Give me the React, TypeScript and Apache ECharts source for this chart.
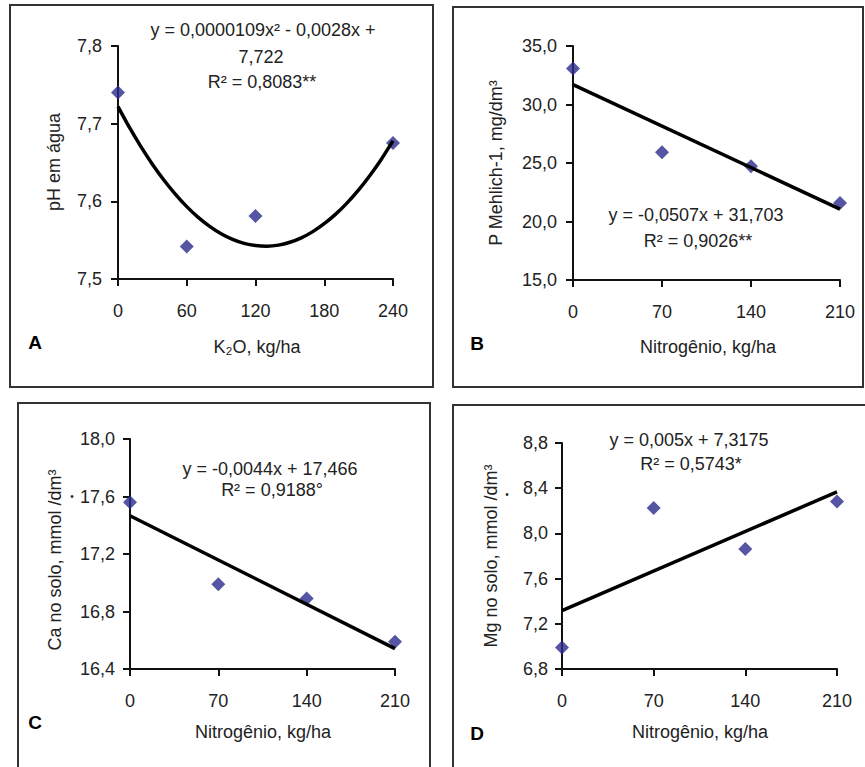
import React, { useEffect, useRef } from "react";
import * as echarts from "echarts";

// Panel A: pH vs K2O dose
const kDoses = [0, 60, 120, 240];
const phValues = [7.74, 7.542, 7.581, 7.675];
const phCurveX = [0, 10, 20, 30, 40, 50, 60, 70, 80, 90, 100, 110, 120, 130, 140, 150, 160, 170, 180, 190, 200, 210, 220, 230, 240];
const phCurveY = [
  7.722, 7.6951, 7.6704, 7.6478, 7.6274, 7.6093, 7.5932, 7.5794, 7.5678, 7.5583, 7.551, 7.5459, 7.543,
  7.5422, 7.5436, 7.5473, 7.553, 7.561, 7.5712, 7.5835, 7.598, 7.6147, 7.6336, 7.6546, 7.6778,
];

// Panels B, C, D: nitrogen doses
const nDoses = [0, 70, 140, 210];
const nTrendX = [0, 210];
const pValues = [33.07, 25.92, 24.73, 21.59];
const pTrend = [31.703, 21.056];
const caValues = [17.56, 16.99, 16.89, 16.59];
const caTrend = [17.466, 16.542];
const mgValues = [6.99, 8.225, 7.862, 8.283];
const mgTrend = [7.3175, 8.3675];

const FONT = "'Liberation Sans', Arial, sans-serif";
const TXT = "#222";
const MARK = "#2a2a8c";
const FS = 18;

const pairs = (xs: number[], ys: number[]) => xs.map((x, i) => [x, ys[i]]);
const comma = (v: number) => v.toFixed(1).replace(".", ",");

function xAxis(gridIndex: number, max: number, interval: number) {
  return {
    type: "value" as const,
    gridIndex,
    min: 0,
    max,
    interval,
    splitLine: { show: false },
    axisLine: { show: true, onZero: false, lineStyle: { color: "#111", width: 2 } },
    axisTick: { show: true, inside: false, length: 7, lineStyle: { color: "#111", width: 2 } },
    axisLabel: { color: TXT, fontSize: FS, fontFamily: FONT, margin: 23, formatter: (v: number) => String(v) },
  };
}

function yAxis(gridIndex: number, min: number, max: number, interval: number, margin: number) {
  return {
    type: "value" as const,
    gridIndex,
    min,
    max,
    interval,
    splitLine: { show: false },
    axisLine: { show: true, onZero: false, lineStyle: { color: "#111", width: 2 } },
    axisTick: { show: true, inside: false, length: 7, lineStyle: { color: "#111", width: 2 } },
    axisLabel: { color: TXT, fontSize: FS, fontFamily: FONT, margin, formatter: comma },
  };
}

function scatter(i: number, xs: number[], ys: number[]) {
  return {
    type: "scatter" as const,
    xAxisIndex: i,
    yAxisIndex: i,
    symbol: "diamond",
    symbolSize: 14,
    itemStyle: { color: MARK },
    data: pairs(xs, ys),
    z: 3,
  };
}

function trend(i: number, xs: number[], ys: number[], smooth: boolean | number = false) {
  return {
    type: "line" as const,
    xAxisIndex: i,
    yAxisIndex: i,
    symbol: "none",
    smooth,
    lineStyle: { color: "#000", width: 3.5 },
    data: pairs(xs, ys),
    z: 4,
  };
}

function label(text: string, x: number, y: number, size = FS, extra: any = {}) {
  return {
    type: "text" as const,
    x,
    y,
    ...extra,
    style: {
      text,
      fontSize: size,
      fontFamily: FONT,
      fill: TXT,
      align: "center",
      verticalAlign: "middle",
      ...(extra.style || {}),
    },
  };
}

function frame(x: number, y: number, w: number, h: number) {
  return {
    type: "rect" as const,
    shape: { x, y, width: w, height: h },
    style: { fill: "none", stroke: "#333", lineWidth: 2 },
  };
}

const vertical = { rotation: Math.PI / 2 };
const letter = { style: { fontWeight: "bold", fill: "#000" } };

export default function App() {
  const ref = useRef<HTMLDivElement>(null);

  useEffect(() => {
    if (!ref.current) return;
    const chart = echarts.init(ref.current, null, { renderer: "svg" });
    chart.setOption({
      animation: false,
      backgroundColor: "#fff",
      grid: [
        { left: 118, top: 46, width: 275, height: 233 },
        { left: 573, top: 46, width: 267, height: 234 },
        { left: 130, top: 439, width: 265, height: 230 },
        { left: 562, top: 443, width: 275, height: 226 },
      ],
      xAxis: [xAxis(0, 240, 60), xAxis(1, 210, 70), xAxis(2, 210, 70), xAxis(3, 210, 70)],
      yAxis: [
        yAxis(0, 7.5, 7.8, 0.1, 16),
        yAxis(1, 15, 35, 5, 16),
        yAxis(2, 16.4, 18.0, 0.4, 15),
        yAxis(3, 6.8, 8.8, 0.4, 14),
      ],
      series: [
        scatter(0, kDoses, phValues),
        trend(0, phCurveX, phCurveY, 0.2),
        scatter(1, nDoses, pValues),
        trend(1, nTrendX, pTrend),
        scatter(2, nDoses, caValues),
        trend(2, nTrendX, caTrend),
        scatter(3, nDoses, mgValues),
        trend(3, nTrendX, mgTrend),
      ],
      graphic: [
        frame(10, 5, 423, 382),
        frame(453, 7, 410, 380),
        frame(18, 403, 412, 400),
        frame(453, 405, 420, 400),

        // Panel A
        label("y = 0,0000109x² - 0,0028x +", 263, 30),
        label("7,722", 261, 57),
        label("R² = 0,8083**", 262, 82),
        label("pH em água", 54, 162, FS, vertical),
        label("K₂O, kg/ha", 257, 347),
        label("A", 35, 342, 19, letter),

        // Panel B
        label("y = -0,0507x + 31,703", 696, 215),
        label("R² = 0,9026**", 698, 241),
        label("P Mehlich-1, mg/dm³", 496, 163, FS, vertical),
        label("Nitrogênio, kg/ha", 708, 347),
        label("B", 477, 343, 19, letter),

        // Panel C
        label("y = -0,0044x + 17,466", 270, 469),
        label("R² = 0,9188°", 272, 490),
        label("Ca no solo, mmol /dm³", 55, 560, FS, vertical),
        label("•", 72, 496, 10),
        label("Nitrogênio, kg/ha", 263, 732),
        label("C", 35, 722, 19, letter),

        // Panel D
        label("y = 0,005x + 7,3175", 689, 440),
        label("R² = 0,5743*", 691, 464),
        label("Mg no solo, mmol /dm³", 491, 556, FS, vertical),
        label("•", 507, 494, 10),
        label("Nitrogênio, kg/ha", 700, 732),
        label("D", 477, 733, 19, letter),
      ],
    });
    return () => chart.dispose();
  }, []);

  return (
    <div
      ref={ref}
      style={{ position: "absolute", left: 0, top: 0, width: 865, height: 767 }}
    />
  );
}
